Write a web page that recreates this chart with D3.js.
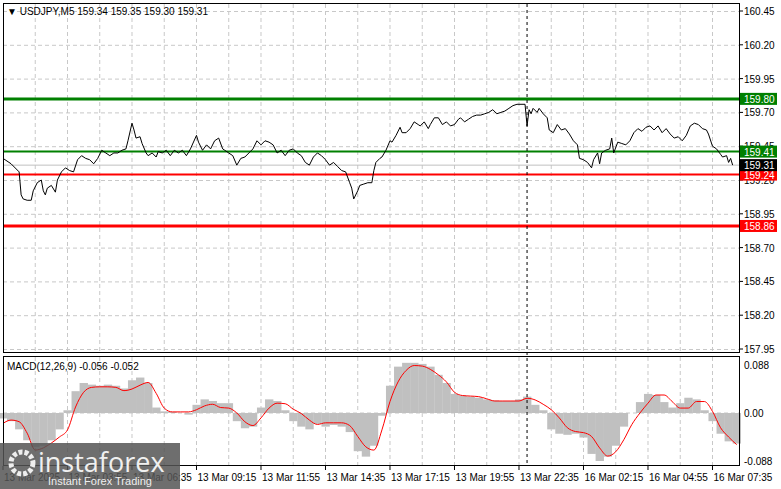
<!DOCTYPE html>
<html><head><meta charset="utf-8">
<script src="https://cdn.jsdelivr.net/npm/d3@7"></script>
<style>body{margin:0;background:#fff}svg{display:block;font-family:"Liberation Sans",Arial,sans-serif}</style>
</head><body>
<script>
// price series: [bar index, close]
const priceBars=[0,4,8,9,10,12,14,15,17,19,20,21,22,24,26,27,29,31,33,35,37,39,41,43,45,47,49,51,53,55,57,59,61,62,64,65,66,68,69,71,72,74,76,77,79,81,83,85,87,89,91,93,96,97,99,101,103,105,107,109,110,112,114,116,118,120,122,124,126,128,130,132,134,136,138,140,142,144,146,148,150,152,154,156,158,160,162,164,166,168,170,172,173,174,176,177,179,181,183,184,185,187,188,190,192,193,195,197,198,200,202,204,206,207,209,211,212,214,216,218,220,222,224,226,227,229,231,233,235,237,239,241,243,245,247,249,251,253,255,257,259,260,261,262,263,265,266,268,270,271,273,275,277,279,281,283,285,286,288,290,292,293,295,296,297,299,301,302,303,305,307,309,311,313,315,317,319,321,323,325,327,329,331,333,335,337,339,341,343,345,347,349,350,352,354,356,357,359,360,361,362];
const priceVals=[159.36,159.32,159.26,159.09,159.06,159.05,159.05,159.12,159.18,159.20,159.12,159.09,159.14,159.16,159.11,159.20,159.26,159.29,159.27,159.26,159.35,159.38,159.36,159.35,159.32,159.36,159.42,159.40,159.38,159.40,159.40,159.42,159.43,159.49,159.62,159.57,159.51,159.52,159.47,159.40,159.38,159.40,159.37,159.41,159.40,159.42,159.38,159.42,159.40,159.42,159.38,159.43,159.53,159.48,159.42,159.46,159.43,159.49,159.51,159.43,159.42,159.40,159.38,159.31,159.36,159.37,159.40,159.43,159.49,159.46,159.49,159.48,159.46,159.40,159.42,159.38,159.42,159.43,159.40,159.38,159.33,159.31,159.37,159.40,159.38,159.35,159.31,159.33,159.30,159.27,159.26,159.18,159.14,159.06,159.12,159.16,159.17,159.18,159.18,159.27,159.33,159.36,159.37,159.42,159.49,159.48,159.53,159.59,159.55,159.55,159.58,159.63,159.61,159.60,159.63,159.58,159.61,159.66,159.66,159.61,159.63,159.60,159.61,159.65,159.66,159.63,159.65,159.67,159.68,159.68,159.69,159.70,159.72,159.69,159.70,159.71,159.73,159.75,159.76,159.76,159.76,159.60,159.72,159.69,159.73,159.70,159.73,159.69,159.66,159.57,159.55,159.61,159.57,159.58,159.54,159.49,159.46,159.36,159.35,159.33,159.29,159.35,159.40,159.32,159.40,159.42,159.43,159.51,159.40,159.48,159.47,159.46,159.49,159.55,159.58,159.56,159.59,159.60,159.57,159.60,159.55,159.58,159.54,159.51,159.52,159.49,159.53,159.60,159.62,159.61,159.58,159.57,159.54,159.45,159.43,159.39,159.37,159.38,159.33,159.36,159.31];
// MACD sampled every 4 bars (thousandths)
const macdBars=d3.range(0,365,4);
const macdHist=[-10,-15,-30,-50,-62,-60,-50,-30,5,40,55,52,50,52,50,45,60,65,55,10,3,2,0,-3,15,25,22,18,18,-15,-28,-25,10,25,22,5,-15,-25,-30,-20,-25,-22,-25,-35,-70,-80,-60,-5,50,85,92,92,90,85,70,55,35,32,30,28,25,23,22,22,25,30,15,5,-30,-38,-40,-38,-45,-75,-88,-80,-60,-25,0,20,35,33,20,10,18,28,25,5,-15,-38,-52,-56];
const macdSignal=[-19,-13,-16,-37,-68,-64,-55,-44,-31,11,38,47,48,48,47,41,44,51,56,36,9,2,2,2,6,13,16,10,9,0,-16,-23,-9,9,18,17,7,-1,-13,-21,-18,-18,-18,-23,-43,-62,-68,-31,21,57,78,87,86,80,70,57,38,32,31,30,26,22,22,22,22,27,24,16,6,-9,-27,-34,-36,-43,-64,-79,-71,-49,-21,0,18,33,33,21,9,9,21,21,3,-27,-44,-58];
const priceTicks=[160.45,160.20,159.95,159.70,159.45,159.20,158.95,158.70,158.45,158.20,157.95];
const levelVals=[159.80,159.41,159.24,158.86];
const levelColors=["#008000","#008000","#ff0000","#ff0000"];
const levelWidths=[3,2,2,3];
const lastClose=159.31;
const timeLabels=["13 Mar 2025","13 Mar 03:55","13 Mar 06:35","13 Mar 09:15","13 Mar 11:55","13 Mar 14:35","13 Mar 17:15","13 Mar 19:55","13 Mar 22:35","16 Mar 02:15","16 Mar 04:55","16 Mar 07:35"];
const macdTicks=[0.088,0,-0.088];
const separatorBar=260;

const W=781,H=489,L=3,R=739;
const svg=d3.select("body").append("svg").attr("width",W).attr("height",H);
const x=d3.scaleLinear().domain([0,366]).range([L,L+366*2.0156]);
const y=d3.scaleLinear().domain([157.95,160.45]).range([349,11]);
const ym=d3.scaleLinear().domain([-0.088,0.088]).range([461,365]);
const grid="#c8c8c8";

function vgrid(y0,y1){
  svg.append("g").selectAll("line").data(d3.range(16,366,16)).join("line")
   .attr("x1",d=>x(d)).attr("x2",d=>x(d)).attr("y1",y0).attr("y2",y1)
   .attr("stroke",grid).attr("stroke-dasharray","4,3");
}
vgrid(4,352);
svg.append("g").selectAll("line").data(priceTicks).join("line")
 .attr("x1",L).attr("x2",R).attr("y1",d=>y(d)+0.5).attr("y2",d=>y(d)+0.5)
 .attr("stroke",grid).attr("stroke-dasharray","4,3");
svg.append("line").attr("x1",L).attr("x2",R).attr("y1",y(lastClose)).attr("y2",y(lastClose)).attr("stroke","#c0c0c0");
svg.append("g").selectAll("line").data(levelVals).join("line")
 .attr("x1",L).attr("x2",R).attr("y1",d=>y(d)).attr("y2",d=>y(d))
 .attr("stroke",(d,i)=>levelColors[i]).attr("stroke-width",(d,i)=>levelWidths[i]);
svg.append("path").datum(priceBars.map((b,i)=>[b,priceVals[i]]))
 .attr("d",d3.line().x(d=>x(d[0])).y(d=>y(d[1]))).attr("fill","none").attr("stroke","#000").attr("stroke-width",1);
svg.append("rect").attr("x",L+0.5).attr("y",3.5).attr("width",R-L).attr("height",349).attr("fill","none").attr("stroke","#000");

const ax=svg.append("g");
ax.selectAll("text").data(priceTicks).join("text").attr("x",744).attr("y",d=>y(d)+4)
 .attr("font-size",10).text(d=>d.toFixed(2));
ax.selectAll("line").data(priceTicks).join("line").attr("x1",R).attr("x2",R+4).attr("y1",d=>y(d)).attr("y2",d=>y(d)).attr("stroke","#000");
const boxes=levelVals.map((v,i)=>({v,c:levelColors[i]})).concat([{v:lastClose,c:"#000"}]);
boxes.forEach(b=>{
  const yy=y(b.v);
  svg.append("rect").attr("x",R+1).attr("y",yy-6).attr("width",37).attr("height",12).attr("fill",b.c);
  svg.append("text").attr("x",744).attr("y",yy+4).attr("font-size",10).attr("fill","#fff").text(b.v.toFixed(2));
});
svg.append("text").attr("x",7).attr("y",15).attr("font-size",10).text("▼ USDJPY,M5  159.34 159.35 159.30 159.31");

vgrid(357,465);
svg.append("line").attr("x1",L).attr("x2",R).attr("y1",ym(0)).attr("y2",ym(0)).attr("stroke",grid).attr("stroke-dasharray","4,3");
svg.append("g").selectAll("rect").data(macdBars).join("rect")
 .attr("x",d=>x(d-2)).attr("width",x(4)-x(0)+0.3)
 .attr("y",(d,i)=>Math.min(ym(macdHist[i]/1000),ym(0)))
 .attr("height",(d,i)=>Math.abs(ym(macdHist[i]/1000)-ym(0)))
 .attr("fill","#c0c0c0");
svg.append("path").datum(macdBars.map((b,i)=>[b,macdSignal[i]/1000]))
 .attr("d",d3.line().curve(d3.curveMonotoneX).x(d=>x(d[0])).y(d=>ym(d[1]))).attr("fill","none").attr("stroke","#ff0000").attr("stroke-width",1);
svg.append("rect").attr("x",L+0.5).attr("y",356.5).attr("width",R-L).attr("height",109).attr("fill","none").attr("stroke","#000");
svg.append("text").attr("x",7).attr("y",370).attr("font-size",10).text("MACD(12,26,9) -0.056 -0.052");
svg.append("g").selectAll("text").data(macdTicks).join("text").attr("x",744).attr("y",d=>ym(d)+4)
 .attr("font-size",10).text(d=>d===0?"0.00":d.toFixed(3));
svg.append("line").attr("x1",x(separatorBar)).attr("x2",x(separatorBar)).attr("y1",4).attr("y2",466)
 .attr("stroke","#000").attr("stroke-dasharray","3,3");
svg.append("g").selectAll("text").data(timeLabels).join("text")
 .attr("x",(d,i)=>x(i*32)+1).attr("y",481).attr("font-size",10).text(d=>d);
svg.append("g").selectAll("line").data(timeLabels).join("line")
 .attr("x1",(d,i)=>x(i*32)).attr("x2",(d,i)=>x(i*32)).attr("y1",466).attr("y2",470).attr("stroke","#000");
const wm=svg.append("g");
wm.append("rect").attr("x",0).attr("y",443).attr("width",180).attr("height",46).attr("fill","#555").attr("opacity",0.85);
wm.append("circle").attr("cx",22).attr("cy",463).attr("r",11).attr("fill","none").attr("stroke","#eee").attr("stroke-width",5).attr("stroke-dasharray","4,2");
wm.append("text").attr("x",38).attr("y",472).attr("font-size",27).attr("fill","#f0f0f0").attr("font-family","'Open Sans',sans-serif").text("instaforex");
wm.append("text").attr("x",48).attr("y",485).attr("font-size",11).attr("fill","#eee").text("Instant Forex Trading");
</script>
</body></html>
